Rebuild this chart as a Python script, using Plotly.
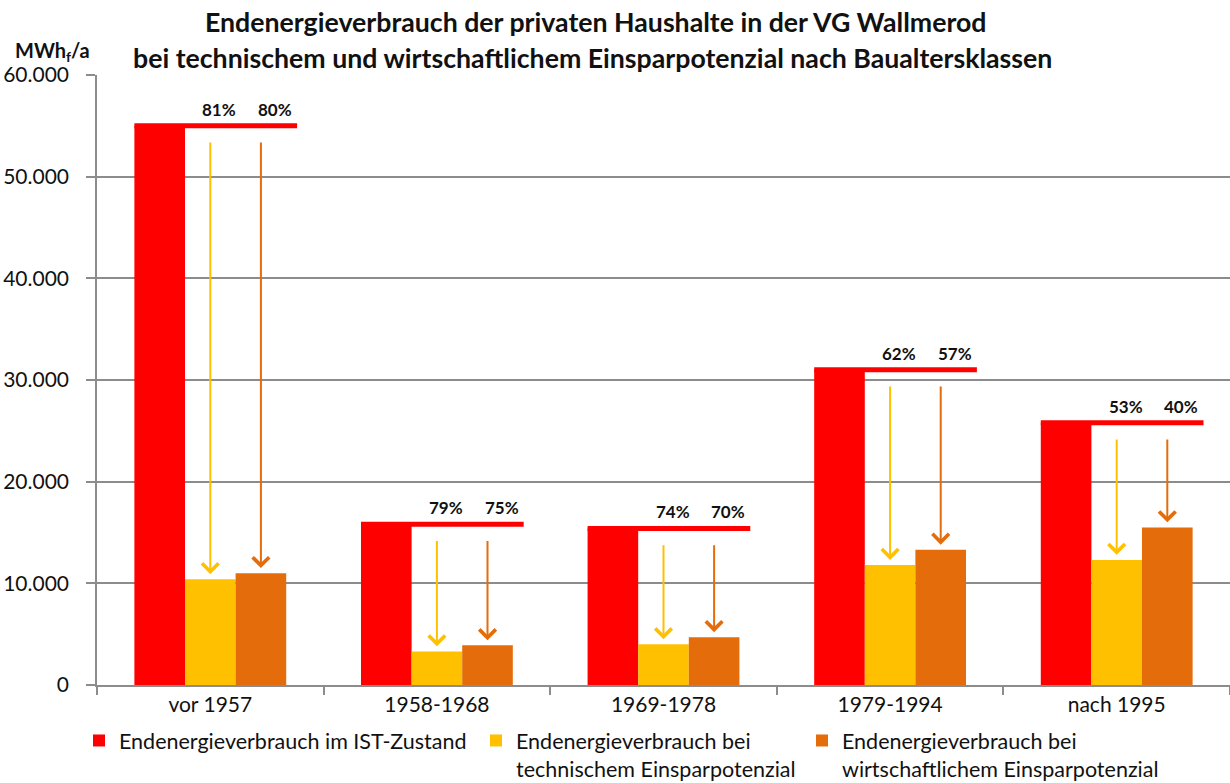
import plotly.graph_objects as go

categories = ["vor 1957", "1958-1968", "1969-1978", "1979-1994", "nach 1995"]
ist_values = [55000, 15800, 15400, 31000, 25800]
tech_values = [10400, 3300, 4000, 11800, 12300]
wirt_values = [11000, 3900, 4700, 13300, 15500]
tech_pct = ["81%", "79%", "74%", "62%", "53%"]
wirt_pct = ["80%", "75%", "70%", "57%", "40%"]

series_names = [
    "Endenergieverbrauch im IST-Zustand",
    "Endenergieverbrauch bei<br>technischem Einsparpotenzial",
    "Endenergieverbrauch bei<br>wirtschaftlichem Einsparpotenzial",
]
y_ticks = [0, 10000, 20000, 30000, 40000, 50000, 60000]

RED = "#FF0000"
YELLOW = "#FFC000"
ORANGE = "#E46C0A"
GRID = "#8C8C8C"
FONT = "Lato"
TXT = "#111111"

W, H = 1230, 783
ML, MR, MT, MB = 97, 0, 75, 98
BARGAP = 0.33
bw = (1 - BARGAP) / 3  # width of one bar in category units

fig = go.Figure()
for vals, name, col, lg in [
    (ist_values, series_names[0], RED, "legend"),
    (tech_values, series_names[1], YELLOW, "legend2"),
    (wirt_values, series_names[2], ORANGE, "legend3"),
]:
    fig.add_trace(go.Bar(x=categories, y=vals, name=name, marker=dict(color=col, line=dict(width=0)),
                         legend=lg))

# red reference line at IST level across each group
for i, v in enumerate(ist_values):
    fig.add_shape(type="line", xref="x", yref="y",
                  x0=i - 1.5 * bw, x1=i + 1.5 * bw + 0.048, y0=v, y1=v,
                  line=dict(color=RED, width=5), layer="above")

# arrows and percentage labels
for i, v in enumerate(ist_values):
    for off, target, col, lab, xs in [
        (0.0, tech_values[i], YELLOW, tech_pct[i], 9),
        (bw, wirt_values[i], ORANGE, wirt_pct[i], 14),
    ]:
        fig.add_annotation(x=i + off, y=target + 500, ax=i + off, ay=v - 1500,
                           xref="x", yref="y", axref="x", ayref="y",
                           text="", showarrow=True, arrowhead=4, arrowsize=1.6,
                           arrowwidth=2, arrowcolor=col)
        fig.add_annotation(x=i + off, y=v, xref="x", yref="y", text="<b>%s</b>" % lab,
                           showarrow=False, xshift=xs, yshift=4, yanchor="bottom",
                           font=dict(family=FONT, size=17, color=TXT))

pw = W - ML - MR
ph = H - MT - MB

def px_x(px):
    return (px - ML) / pw

def px_y(py):
    return (H - MB - py) / ph

fig.add_annotation(x=px_x(595), y=px_y(22), xref="paper", yref="paper", showarrow=False,
                   text="<b>Endenergieverbrauch der privaten Haushalte in der VG Wallmerod</b>",
                   font=dict(family=FONT, size=26.7, color=TXT), xanchor="center", yanchor="middle")
fig.add_annotation(x=px_x(592), y=px_y(58), xref="paper", yref="paper", showarrow=False,
                   text="<b>bei technischem und wirtschaftlichem Einsparpotenzial nach Baualtersklassen</b>",
                   font=dict(family=FONT, size=26.7, color=TXT), xanchor="center", yanchor="middle")
fig.add_annotation(x=px_x(52), y=px_y(51), xref="paper", yref="paper", showarrow=False,
                   text="<b>MWh<sub>f</sub>/a</b>",
                   font=dict(family=FONT, size=20, color=TXT), xanchor="center", yanchor="middle")

leg_common = dict(orientation="h", xref="container", yref="container", xanchor="left", yanchor="top",
                  valign="top", font=dict(family=FONT, size=21.5, color=TXT),
                  bgcolor="rgba(0,0,0,0)", itemwidth=30)
fig.update_layout(
    width=W, height=H,
    margin=dict(l=ML, r=MR, t=MT, b=MB, autoexpand=False),
    paper_bgcolor="white", plot_bgcolor="white",
    barmode="group", bargap=BARGAP, bargroupgap=0,
    separators=",.",
    showlegend=True,
    legend=dict(x=79 / W, y=1 - 720 / H, **leg_common),
    legend2=dict(x=476 / W, y=1 - 720 / H, **leg_common),
    legend3=dict(x=802 / W, y=1 - 720 / H, **leg_common),
    xaxis=dict(type="category", showline=True, linecolor=GRID, linewidth=1.5,
               ticks="outside", tickson="boundaries", ticklen=8, tickcolor=GRID, tickwidth=1.5,
               tickfont=dict(family=FONT, size=21, color=TXT), showgrid=False),
    yaxis=dict(range=[0, 60000], tickvals=y_ticks, tickformat=",d", showline=True,
               linecolor=GRID, linewidth=1.5, showgrid=True, gridcolor=GRID, gridwidth=1.5,
               ticks="outside", ticklen=9, tickcolor=GRID, tickwidth=1.5, ticklabelstandoff=13,
               tickfont=dict(family=FONT, size=21, color=TXT), zeroline=False),
)
fig.write_html("out.html", config={"displayModeBar": False},
               post_script="document.body.style.margin='0px';document.body.style.overflow='hidden';")
